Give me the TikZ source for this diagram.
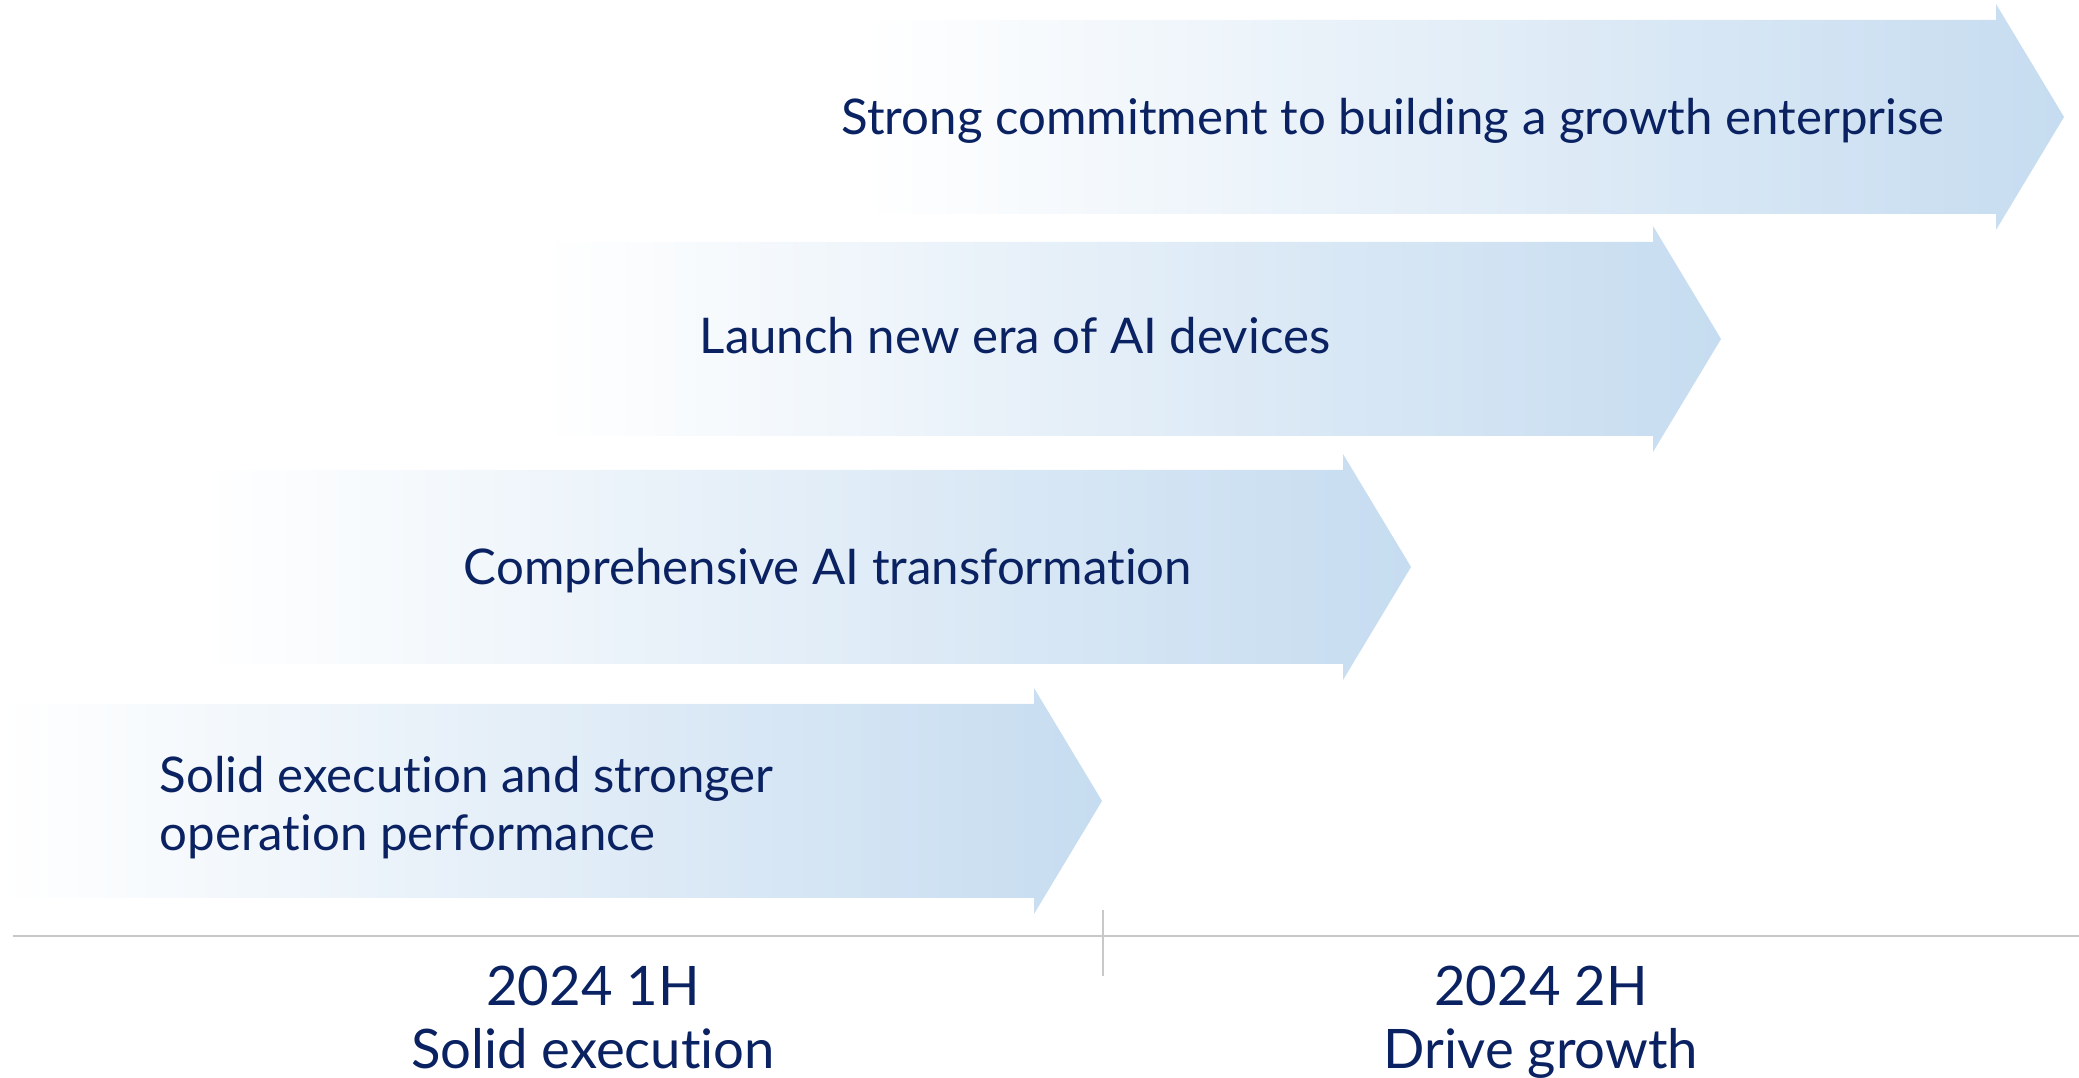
\documentclass[tikz,border=0pt]{standalone}
\usepackage{fontspec}
\setmainfont[Ligatures={NoCommon,NoContextual}]{Lato}
\usepackage{tikz}
\usetikzlibrary{calc,positioning}
\definecolor{stageblue}{RGB}{198,220,240}
\definecolor{navytext}{RGB}{10,34,98}
\definecolor{axisgray}{RGB}{200,200,200}
% start x, tip base x, centre y
\def\drawstage#1#2#3{
   \path[stage arrow] (#1,#3-0.97) -- (#2,#3-0.97) -- (#2,#3-1.13)
        -- (#2+0.68,#3) -- (#2,#3+1.13) -- (#2,#3+0.97) -- (#1,#3+0.97) -- cycle;
 }
\tikzset{
  stage arrow/.style = {left color=white, right color=stageblue},
  stage text/.style  = {text=navytext, inner sep=0pt,
                        font=\fontsize{14}{16.5}\selectfont},
  period text/.style = {text=navytext, inner sep=0pt, align=center,
                        anchor=north, font=\fontsize{15.5}{18}\selectfont},
  axis line/.style   = {draw=axisgray, line width=0.6pt},
  tick line/.style   = {draw=axisgray, line width=0.4pt},
}
\begin{document}
\begin{tikzpicture}
    \useasboundingbox (0,0) rectangle (20.79,10.78);

    % Arrows, bottom to top
    \drawstage{0}{10.34}{2.77}
    \drawstage{2.0}{13.43}{5.11}
    \drawstage{5.4}{16.53}{7.39}
    \drawstage{8.6}{19.96}{9.61}

    \node[stage text] (commit) at (13.93,9.57)
      {Strong commitment to building a growth enterprise};
    \node[stage text] (launch) at (10.15,7.42) {Launch new era of AI devices};
    \node[stage text] (transf) at (8.28,5.07)  {Comprehensive AI transformation};
    \node[stage text, align=left, anchor=west] (solid) at (1.59,2.70)
      {Solid execution and stronger\\ operation performance};

    % Time axis
    \coordinate (axis-l) at (0.13,1.42);
    \coordinate (axis-r) at (20.79,1.42);
    \coordinate (tick-t) at (11.03,1.68);
    \coordinate (tick-b) at (11.03,1.02);
    \draw[axis line] (axis-l) -- (axis-r);
    \draw[tick line] (tick-t) -- (tick-b);

    \node[period text] (first)  at (5.93,1.13)  {2024 1H\\ Solid execution};
    \node[period text] (second) at (15.41,1.13) {2024 2H\\ Drive growth};

\end{tikzpicture}
\end{document}
